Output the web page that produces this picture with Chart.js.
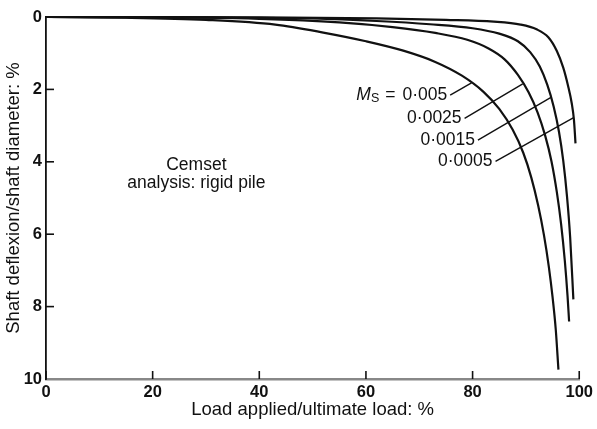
<!DOCTYPE html>
<html>
<head>
<meta charset="utf-8">
<script src="https://cdn.jsdelivr.net/npm/chart.js@4.4.1/dist/chart.umd.min.js"></script>
<style>
  html, body { margin: 0; padding: 0; background: #fff; }
  #wrap { width: 597px; height: 429px; }
</style>
</head>
<body>
<div id="wrap"><canvas id="pileChart" width="597" height="429"></canvas></div>
<script>
// curves: load applied (%) vs shaft deflexion (%)
const msLabels = ['0·005', '0·0025', '0·0015', '0·0005'];

const loadMs005 = [0, 15, 30, 43, 52, 60, 67, 73, 78, 82, 85, 87.5, 89.5, 91, 92.3, 93.4, 94.3, 95.0, 95.6, 96.1];
const deflMs005 = [0, 0.02, 0.08, 0.21, 0.43, 0.67, 0.93, 1.24, 1.62, 2.06, 2.54, 3.11, 3.75, 4.43, 5.21, 6.04, 6.9, 7.74, 8.64, 9.74];

const loadMs0025 = [0, 20, 40, 55, 65, 73, 79, 83, 86, 88.5, 90.5, 92.2, 93.6, 94.8, 95.8, 96.6, 97.3, 97.8, 98.1];
const deflMs0025 = [0, 0.005, 0.05, 0.15, 0.28, 0.44, 0.63, 0.87, 1.17, 1.6, 2.08, 2.64, 3.27, 3.99, 4.84, 5.72, 6.74, 7.69, 8.41];

const loadMs0015 = [0, 30, 50, 62, 72, 80, 85, 88.5, 90.8, 92.6, 94, 95.2, 96.2, 97.0, 97.7, 98.3, 98.9];
const deflMs0015 = [0, 0.01, 0.04, 0.11, 0.2, 0.31, 0.46, 0.67, 0.97, 1.37, 1.87, 2.47, 3.17, 3.97, 4.95, 6.09, 7.8];

const loadMs0005 = [0, 40, 62, 75, 84, 89, 92, 94.2, 95.8, 97.0, 97.9, 98.6, 99.0, 99.3];
const deflMs0005 = [0, 0.01, 0.04, 0.08, 0.13, 0.21, 0.34, 0.56, 0.94, 1.40, 1.90, 2.39, 2.83, 3.49];

// leader lines from each label to its curve: [x0, y0, x1, y1]
const leaderLines = [
  [75.8, 2.16, 79.8, 1.82],
  [78.5, 2.80, 89.4, 1.85],
  [81.0, 3.40, 94.7, 2.22],
  [84.3, 3.99, 98.95, 2.78]
];

const xTicks = [0, 20, 40, 60, 80, 100];
const yTicks = [0, 2, 4, 6, 8, 10];

const toPoints = (xs, ys) => xs.map((v, i) => ({ x: v, y: ys[i] }));

const curve = (label, xs, ys) => ({
  label: label,
  data: toPoints(xs, ys),
  borderColor: '#111',
  borderWidth: 2.2,
  pointRadius: 0,
  cubicInterpolationMode: 'monotone',
  clip: false
});

const leader = (l, i) => ({
  label: 'leader' + i,
  data: [{ x: l[0], y: l[1] }, { x: l[2], y: l[3] }],
  borderColor: '#111',
  borderWidth: 1.4,
  pointRadius: 0,
  clip: false
});

const datasets = [
  curve('Ms 0.005', loadMs005, deflMs005),
  curve('Ms 0.0025', loadMs0025, deflMs0025),
  curve('Ms 0.0015', loadMs0015, deflMs0015),
  curve('Ms 0.0005', loadMs0005, deflMs0005)
].concat(leaderLines.map(leader));

const FAMILY = '"Liberation Sans", Arial, sans-serif';

// short tick marks pointing into the plot, as in the print
const inwardTicks = {
  id: 'inwardTicks',
  afterDatasetsDraw(chart) {
    const { ctx, chartArea: a, scales: { x, y } } = chart;
    ctx.save();
    ctx.strokeStyle = '#111';
    ctx.lineWidth = 1.6;
    xTicks.forEach(v => {
      const px = x.getPixelForValue(v);
      ctx.beginPath(); ctx.moveTo(px, a.bottom); ctx.lineTo(px, a.bottom - 8); ctx.stroke();
    });
    yTicks.slice(1, -1).forEach(v => {
      const py = y.getPixelForValue(v);
      ctx.beginPath(); ctx.moveTo(a.left, py); ctx.lineTo(a.left + 8, py); ctx.stroke();
    });
    ctx.restore();
  }
};

// curve labels and the note
const labelsPlugin = {
  id: 'labelsPlugin',
  afterDatasetsDraw(chart) {
    const { ctx, scales: { x, y } } = chart;
    const font = '17.5px ' + FAMILY;
    ctx.save();
    ctx.fillStyle = '#111';
    ctx.textBaseline = 'middle';
    ctx.textAlign = 'left';

    leaderLines.forEach((l, i) => {
      const right = x.getPixelForValue(l[0]) - 3;
      const py = y.getPixelForValue(l[1]);
      ctx.font = font;
      const w = ctx.measureText(msLabels[i]).width;
      ctx.fillText(msLabels[i], right - w, py);
      if (i === 0) {
        // "Ms =" written right to left in front of the value
        let px = right - w - 7;
        px -= ctx.measureText('=').width;
        ctx.fillText('=', px, py);
        ctx.font = '12.5px ' + FAMILY;
        px -= 6 + ctx.measureText('S').width;
        ctx.fillText('S', px, py + 3);
        ctx.font = 'italic 17.5px ' + FAMILY;
        px -= ctx.measureText('M').width;
        ctx.fillText('M', px, py);
      }
    });

    ctx.font = font;
    ctx.textAlign = 'center';
    ctx.fillText('Cemset', x.getPixelForValue(28.2), y.getPixelForValue(4.09));
    ctx.fillText('analysis: rigid pile', x.getPixelForValue(28.2), y.getPixelForValue(4.6));
    ctx.restore();
  }
};

new Chart(document.getElementById('pileChart').getContext('2d'), {
  type: 'line',
  data: { datasets: datasets },
  plugins: [inwardTicks, labelsPlugin],
  options: {
    responsive: false,
    animation: false,
    layout: { padding: { top: 17, right: 15, left: 0, bottom: 0 } },
    plugins: { legend: { display: false }, tooltip: { enabled: false } },
    scales: {
      x: {
        type: 'linear',
        min: 0, max: 100,
        afterFit: s => { s.height = 50; },
        afterBuildTicks: s => { s.ticks = xTicks.map(v => ({ value: v })); },
        grid: { display: false, drawTicks: false },
        border: { color: '#888', width: 2.5 },
        ticks: {
          padding: 4,
          color: '#111',
          font: { family: FAMILY, size: 16.5, weight: 'bold' }
        },
        title: {
          display: true,
          text: 'Load applied/ultimate load: %',
          color: '#111',
          padding: { top: 0, bottom: 8 },
          font: { family: FAMILY, size: 18.5 }
        }
      },
      y: {
        type: 'linear',
        reverse: true,
        min: 0, max: 10,
        afterFit: s => { s.width = 46; },
        afterBuildTicks: s => { s.ticks = yTicks.map(v => ({ value: v })); },
        grid: { display: false, drawTicks: false },
        border: { color: '#111', width: 1.8 },
        ticks: {
          padding: 4,
          color: '#111',
          font: { family: FAMILY, size: 16.5, weight: 'bold' }
        },
        title: {
          display: true,
          text: 'Shaft deflexion/shaft diameter: %',
          color: '#111',
          padding: { top: 3, bottom: 0 },
          font: { family: FAMILY, size: 18.5 }
        }
      }
    }
  }
});
</script>
</body>
</html>
